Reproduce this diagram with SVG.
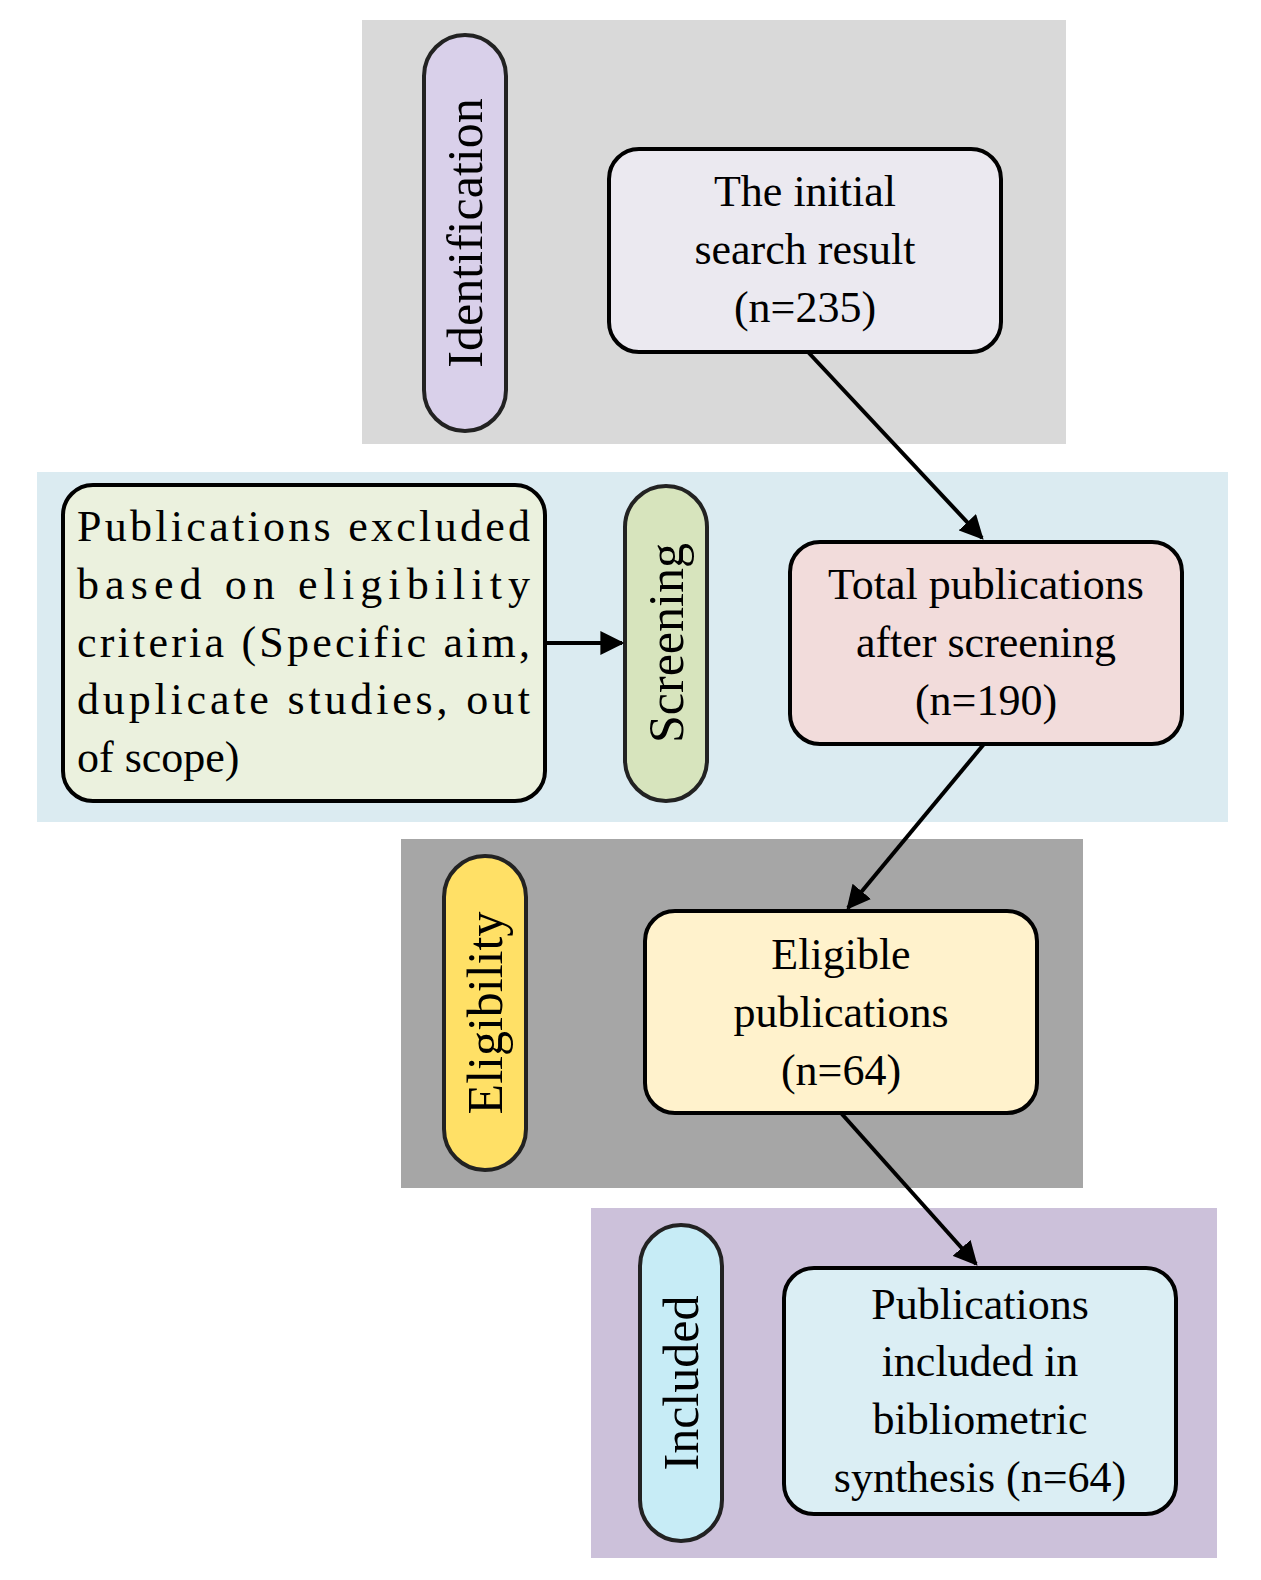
<svg xmlns="http://www.w3.org/2000/svg" width="1261" height="1580" viewBox="0 0 1261 1580">
<style>
.t{font-family:"Liberation Serif","DejaVu Serif",serif;font-size:44px;fill:#000}
.c{text-anchor:middle}
.box{stroke:#000;stroke-width:4}
.pill{stroke:#222;stroke-width:4}
.lab{font-family:"Liberation Serif","DejaVu Serif",serif;font-size:50px;text-anchor:middle;dominant-baseline:central}
.con{stroke:#000;stroke-width:4;fill:none;marker-end:url(#ah)}
</style>
<defs><marker id="ah" viewBox="0 0 10 10" refX="9" refY="5" markerWidth="6" markerHeight="6" orient="auto" markerUnits="strokeWidth"><path d="M0,0L10,5L0,10z" fill="#000"/></marker></defs>
<rect x="362" y="20" width="704" height="424" fill="#d9d9d9"/>
<rect x="37" y="472" width="1191" height="350" fill="#dbebf1"/>
<rect x="401" y="839" width="682" height="349" fill="#a6a6a6"/>
<rect x="591" y="1208" width="626" height="350" fill="#ccc1da"/>
<g id="p-ident"><rect class="pill" x="424" y="35" width="82" height="396" rx="41" fill="#d9d0ea"/><text class="lab" transform="translate(465,233) rotate(-90)">Identification</text></g>
<g id="p-screen"><rect class="pill" x="625" y="486" width="82" height="315" rx="41" fill="#d7e4bd"/><text class="lab" transform="translate(666,643) rotate(-90)">Screening</text></g>
<g id="p-elig"><rect class="pill" x="444" y="856" width="82" height="314" rx="41" fill="#ffe066"/><text class="lab" transform="translate(485,1013) rotate(-90)">Eligibility</text></g>
<g id="p-incl"><rect class="pill" x="640" y="1225" width="82" height="316" rx="41" fill="#c7ecf6"/><text class="lab" transform="translate(681,1383) rotate(-90)">Included</text></g>
<g id="initial"><rect class="box" x="609" y="149" width="392" height="203" rx="30" fill="#ebe9f0"/>
<text class="t c" x="805" y="206">The initial</text><text class="t c" x="805" y="264">search result</text><text class="t c" x="805" y="322">(n=235)</text></g>
<g id="total"><rect class="box" x="790" y="542" width="392" height="202" rx="30" fill="#f2dcdb"/>
<text class="t c" x="986" y="599">Total publications</text><text class="t c" x="986" y="657">after screening</text><text class="t c" x="986" y="715">(n=190)</text></g>
<g id="excluded"><rect class="box" x="63" y="485" width="482" height="316" rx="30" fill="#ebf1de"/>
<text class="t" x="77" y="541" textLength="453" lengthAdjust="spacing">Publications excluded</text>
<text class="t" x="77" y="599" textLength="453" lengthAdjust="spacing">based on eligibility</text>
<text class="t" x="77" y="657" textLength="453" lengthAdjust="spacing">criteria (Specific aim,</text>
<text class="t" x="77" y="714" textLength="453" lengthAdjust="spacing">duplicate studies, out</text>
<text class="t" x="77" y="772">of scope)</text></g>
<g id="eligible"><rect class="box" x="645" y="911" width="392" height="202" rx="30" fill="#fff2cc"/>
<text class="t c" x="841" y="969">Eligible</text><text class="t c" x="841" y="1027">publications</text><text class="t c" x="841" y="1085">(n=64)</text></g>
<g id="included"><rect class="box" x="784" y="1268" width="392" height="246" rx="30" fill="#dbeef4"/>
<text class="t c" x="980" y="1319">Publications</text><text class="t c" x="980" y="1376">included in</text><text class="t c" x="980" y="1434">bibliometric</text><text class="t c" x="980" y="1492">synthesis (n=64)</text></g>
<g id="connectors">
<line class="con" x1="808" y1="352" x2="982" y2="538"/>
<line class="con" x1="984" y1="744" x2="848" y2="908"/>
<line class="con" x1="841" y1="1113" x2="976" y2="1264"/>
<line class="con" x1="545" y1="643" x2="622" y2="643"/>
</g>
</svg>
